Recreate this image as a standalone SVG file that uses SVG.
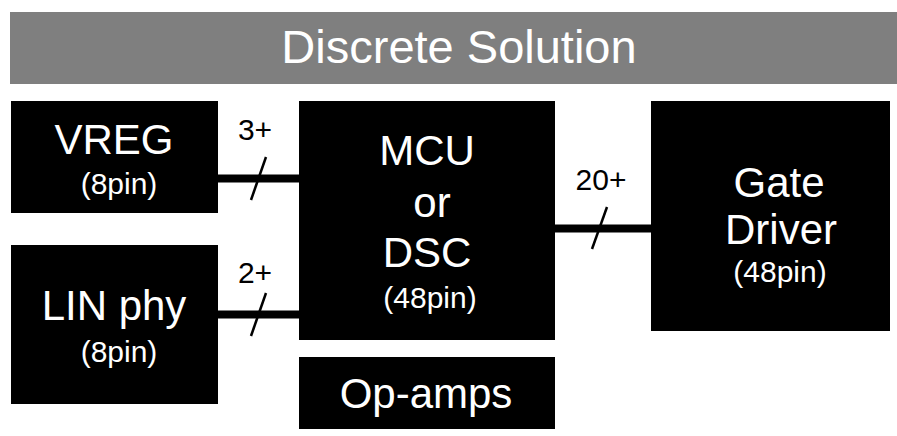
<svg xmlns="http://www.w3.org/2000/svg" width="897" height="436" viewBox="0 0 897 436">
<style>
.box{fill:#000}
.t{font-family:"Liberation Sans",Arial,sans-serif;fill:#fff;text-anchor:middle}
.big{font-size:42px}
.sm{font-size:30px}
.lbl{font-family:"Liberation Sans",Arial,sans-serif;fill:#000;text-anchor:middle;font-size:30px}
.bus{stroke:#000;stroke-width:8;fill:none}
.tick{stroke:#000;stroke-width:2.5;fill:none}
</style>
<g id="header">
<rect x="10" y="12" width="887" height="72" fill="#7f7f7f"/>
<text class="t" x="459" y="63" font-size="47">Discrete Solution</text>
</g>
<g id="vreg">
<rect class="box" x="11" y="101" width="207" height="112"/>
<text class="t big" x="114" y="154">VREG</text>
<text class="t sm" x="119" y="194">(8pin)</text>
</g>
<g id="linphy">
<rect class="box" x="11" y="245" width="207" height="159"/>
<text class="t big" x="114" y="320">LIN phy</text>
<text class="t sm" x="119" y="362">(8pin)</text>
</g>
<g id="mcu">
<rect class="box" x="299" y="101" width="256" height="239"/>
<text class="t big" x="427" y="165">MCU</text>
<text class="t big" x="432" y="217">or</text>
<text class="t big" x="427" y="267">DSC</text>
<text class="t sm" x="430" y="308">(48pin)</text>
</g>
<g id="opamps">
<rect class="box" x="299" y="357" width="256" height="72"/>
<text class="t big" x="426" y="408">Op-amps</text>
</g>
<g id="gatedriver">
<rect class="box" x="651" y="101" width="239" height="230"/>
<text class="t big" x="779" y="197">Gate</text>
<text class="t big" x="781" y="244">Driver</text>
<text class="t sm" x="780" y="282">(48pin)</text>
</g>
<g id="connectors">
<line class="bus" x1="218" y1="178.5" x2="299" y2="178.5"/>
<line class="tick" x1="266" y1="157" x2="251" y2="200"/>
<text class="lbl" x="255" y="140">3+</text>
<line class="bus" x1="218" y1="314.5" x2="299" y2="314.5"/>
<line class="tick" x1="266" y1="293" x2="251" y2="336"/>
<text class="lbl" x="255" y="283">2+</text>
<line class="bus" x1="555" y1="228.5" x2="651" y2="228.5"/>
<line class="tick" x1="607" y1="207" x2="592" y2="249"/>
<text class="lbl" x="601" y="190">20+</text>
</g>
</svg>
